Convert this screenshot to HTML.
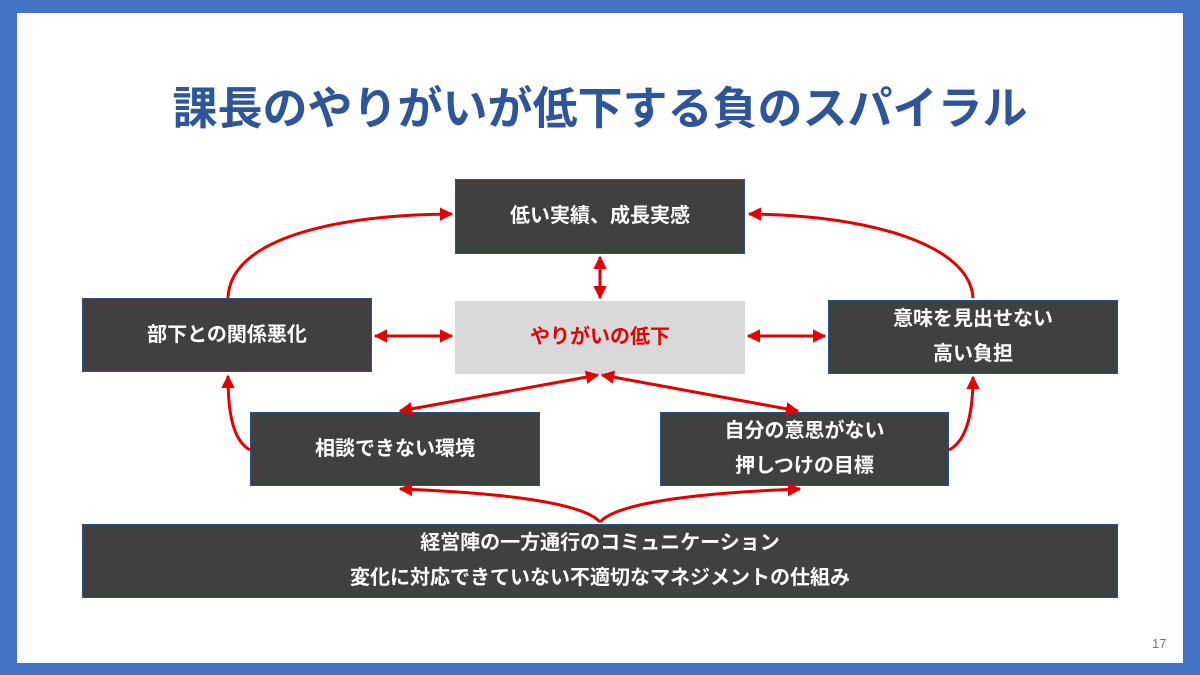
<!DOCTYPE html>
<html><head><meta charset="utf-8"><style>
body{margin:0;width:1200px;height:675px;background:#4472c4;position:relative;overflow:hidden;font-family:"Liberation Sans","Noto Sans CJK JP",sans-serif}
.in{position:absolute;left:17px;top:13px;width:1166px;height:650px;background:#fff}
.t{position:absolute;left:0;width:1200px;top:72px;text-align:center;font-size:45px;font-weight:bold;color:#2e5597}
.b{position:absolute;background:#404040;border:1px solid #2f4f7f;color:#fff;font-weight:bold;font-size:20px;display:flex;align-items:center;justify-content:center;text-align:center;line-height:35px;box-sizing:border-box}
.pn{position:absolute;left:1152px;top:636px;font-size:13px;color:#777}
svg{position:absolute;left:0;top:0}
</style></head><body>
<div class="in"></div>
<div class="t">課長のやりがいが低下する負のスパイラル</div>
<div class="b" style="left:455px;top:179px;width:290px;height:75px">低い実績、成長実感</div>
<div class="b" style="left:82px;top:298px;width:290px;height:74px">部下との関係悪化</div>
<div class="b" style="left:455px;top:301px;width:290px;height:73px;background:#d9d9d9;border:none;color:#e00000">やりがいの低下</div>
<div class="b" style="left:828px;top:300px;width:290px;height:74px">意味を見出せない<br>高い負担</div>
<div class="b" style="left:250px;top:412px;width:290px;height:74px">相談できない環境</div>
<div class="b" style="left:660px;top:412px;width:289px;height:74px">自分の意思がない<br>押しつけの目標</div>
<div class="b" style="left:82px;top:524px;width:1036px;height:74px">経営陣の一方通行のコミュニケーション<br>変化に対応できていない不適切なマネジメントの仕組み</div>
<div class="pn">17</div>
<svg width="1200" height="675" viewBox="0 0 1200 675">
<defs><marker id="a" viewBox="0 0 10 10" refX="9" refY="5" markerWidth="4.5" markerHeight="4.5" orient="auto-start-reverse"><path d="M0,0L10,5L0,10z" fill="#e00000"/></marker></defs>
<g stroke="#e00000" stroke-width="3" fill="none" marker-end="url(#a)">
<line x1="600" y1="257" x2="600" y2="298" marker-start="url(#a)"/>
<line x1="375" y1="336" x2="452" y2="336" marker-start="url(#a)"/>
<line x1="748" y1="336" x2="825" y2="336" marker-start="url(#a)"/>
<line x1="598" y1="375" x2="400" y2="411" marker-start="url(#a)"/>
<line x1="602" y1="375" x2="798" y2="411" marker-start="url(#a)"/>
<path d="M228,298 C230,240 330,215 452,214"/>
<path d="M973,298 C970,245 870,215 749,214"/>
<path d="M250,450 C232,440 228,410 228,376"/>
<path d="M949,450 C968,440 973,410 973,377"/>
<path d="M600,522 C580,500 480,492 400,489"/>
<path d="M600,522 C620,500 720,492 800,489"/>
</g>
</svg>
</body></html>
